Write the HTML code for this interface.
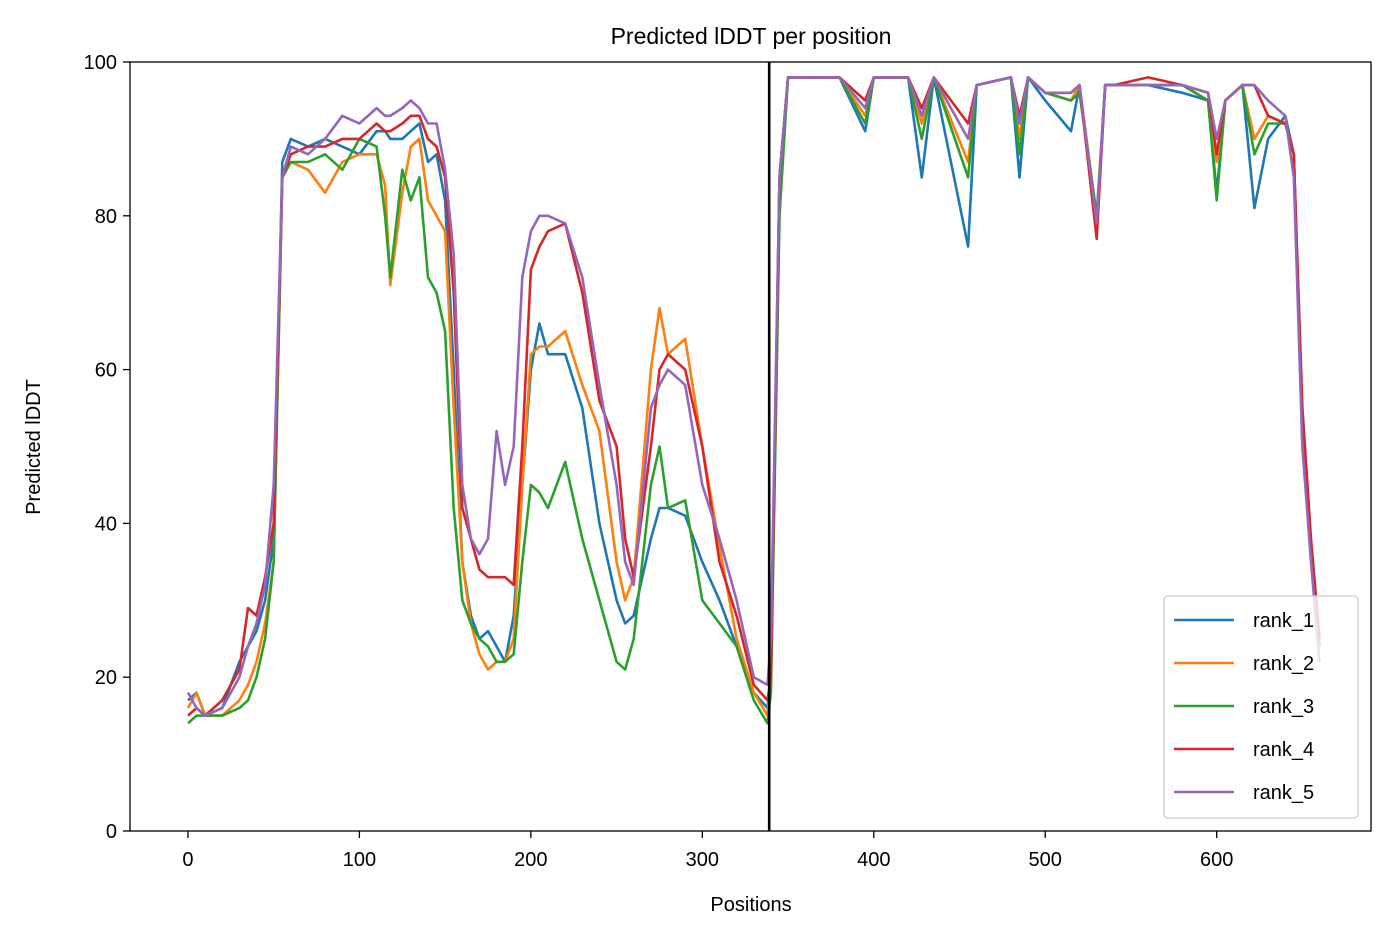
<!DOCTYPE html>
<html><head><meta charset="utf-8"><style>
body{margin:0;background:#fff;}
svg text{font-family:"Liberation Sans","DejaVu Sans",sans-serif;fill:#000;}
</style></head><body>
<svg id="chart" width="1391" height="939" xmlns="http://www.w3.org/2000/svg">
<text x="751" y="44" font-size="23" text-anchor="middle">Predicted lDDT per position</text>
<text x="751" y="911" font-size="20" text-anchor="middle">Positions</text>
<text transform="translate(40,447) rotate(-90)" font-size="20" text-anchor="middle">Predicted lDDT</text>
<g id="plot"></g>
</svg>
<script>
const positions=[0,5,10,20,30,35,40,45,50,55,60,70,80,90,100,110,115,118,125,130,135,140,145,150,155,160,165,170,175,180,185,190,195,200,205,210,220,230,240,250,255,260,270,275,280,290,300,310,320,330,338,340,345,350,360,380,395,400,420,428,435,455,460,480,485,490,500,515,520,530,535,540,560,580,595,600,605,615,622,630,640,645,650,655,660];
const rank1=[17,18,15,16,22,24,26,30,38,87,90,89,90,89,88,91,91,90,90,91,92,87,88,82,60,35,28,25,26,24,22,28,45,60,66,62,62,55,40,30,27,28,38,42,42,41,35,30,24,18,16,
20,85,98,98,98,91,98,98,85,98,76,97,98,85,98,95,91,97,79,97,97,97,96,95,83,95,97,81,90,93,88,52,37,24];
const rank2=[16,18,15,15,17,19,22,27,35,85,87,86,83,87,88,88,84,71,83,89,90,82,80,78,55,35,27,23,21,22,22,25,45,62,63,63,65,58,52,35,30,33,60,68,62,64,50,37,25,18,15,
20,85,98,98,98,93,98,98,92,98,87,97,98,90,98,96,95,97,80,97,97,97,97,95,87,95,97,90,93,92,88,52,37,25];
const rank3=[14,15,15,15,16,17,20,25,35,85,87,87,88,86,90,89,80,72,86,82,85,72,70,65,42,30,27,25,24,22,22,23,35,45,44,42,48,38,30,22,21,25,45,50,42,43,30,27,24,17,14,
18,80,98,98,98,92,98,98,90,98,85,97,98,88,98,96,95,96,80,97,97,97,97,95,82,95,97,88,92,92,88,50,36,24];
const rank4=[15,16,15,17,21,29,28,33,40,85,88,89,89,90,90,92,91,91,92,93,93,90,89,85,70,42,38,34,33,33,33,32,50,73,76,78,79,70,56,50,38,33,50,60,62,60,50,35,28,19,17,
20,85,98,98,98,95,98,98,94,98,92,97,98,93,98,96,96,97,77,97,97,98,97,96,88,95,97,97,93,92,88,55,38,25];
const rank5=[18,16,15,16,20,24,27,32,45,85,89,88,90,93,92,94,93,93,94,95,94,92,92,86,75,45,38,36,38,52,45,50,72,78,80,80,79,72,58,45,35,32,55,58,60,58,45,38,30,20,19,
25,85,98,98,98,94,98,98,93,98,90,97,98,92,98,96,96,97,79,97,97,97,97,96,90,95,97,97,95,93,85,50,35,22];
const seriesNames=["rank_1","rank_2","rank_3","rank_4","rank_5"];
const xTicks=[0,100,200,300,400,500,600];
const yTicks=[0,20,40,60,80,100];
const divider=339;

const L=130,R=1371,T=62,B=831,xmin=-33.8,xmax=690,ymin=0,ymax=100;
const xs=v=>L+(v-xmin)/(xmax-xmin)*(R-L);
const ys=v=>B-(v-ymin)/(ymax-ymin)*(B-T);
const NS="http://www.w3.org/2000/svg";
const g=document.getElementById('plot');
function mk(t,a,p){const e=document.createElementNS(NS,t);for(const k in a)e.setAttribute(k,a[k]);(p||g).appendChild(e);return e;}
const colors=["#1f77b4","#ff7f0e","#2ca02c","#d62728","#9467bd"];
const data=[rank1,rank2,rank3,rank4,rank5];
data.forEach((s,i)=>{
  const d=s.map((v,j)=>(j?'L':'M')+xs(positions[j]).toFixed(1)+','+ys(v).toFixed(1)).join('');
  const p=mk('path',{d:d,fill:'none',stroke:colors[i],'stroke-width':2.6,'stroke-linejoin':'round'});
  
  
});
const vl=mk('line',{x1:xs(divider),x2:xs(divider),y1:T,y2:B,stroke:'#000','stroke-width':2.6});


const fr=mk('rect',{x:L,y:T,width:R-L,height:B-T,fill:'none',stroke:'#000','stroke-width':1.3});


xTicks.forEach(t=>{
  const x=xs(t);
  const tl=mk('line',{x1:x,x2:x,y1:B,y2:B+7,stroke:'#000','stroke-width':1.3});
  
  
  const tx=mk('text',{x:x,y:B+35,'font-size':20,'text-anchor':'middle'});
  tx.textContent=t;
  
  
});
yTicks.forEach(t=>{
  const y=ys(t);
  const tl=mk('line',{x1:L-7,x2:L,y1:y,y2:y,stroke:'#000','stroke-width':1.3});
  
  
  const tx=mk('text',{x:L-13,y:y+7,'font-size':20,'text-anchor':'end'});
  tx.textContent=t;
  
  
});
const lg=mk('g',{});


mk('rect',{x:1164,y:596,width:194,height:222,rx:4,fill:'#fff','fill-opacity':0.8,stroke:'#ccc','stroke-width':1.3},lg);
seriesNames.forEach((n,i)=>{
  const y=620+i*43;
  const e=mk('g',{},lg);
  
  
  mk('line',{x1:1174,x2:1234,y1:y,y2:y,stroke:colors[i],'stroke-width':2.6},e);
  const t=mk('text',{x:1253,y:y+7,'font-size':20},e);
  t.textContent=n;
});
</script>
</body></html>
